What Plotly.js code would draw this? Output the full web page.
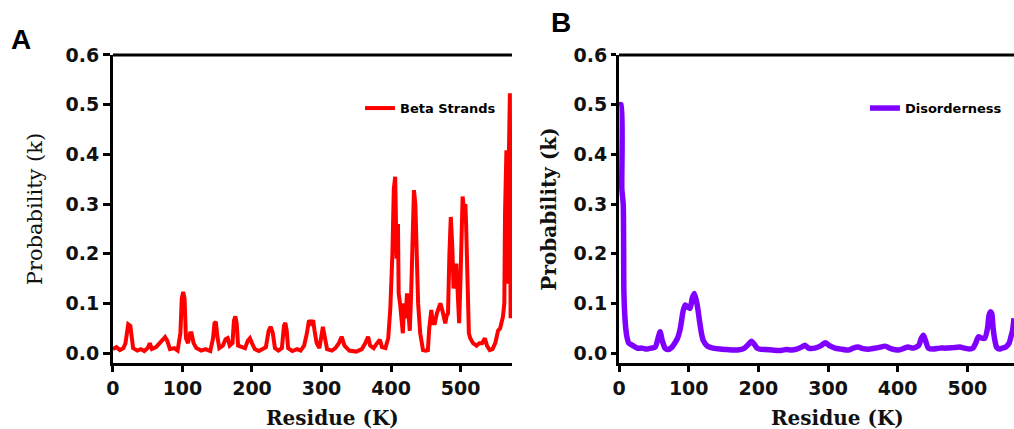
<!DOCTYPE html>
<html>
<head>
<meta charset="utf-8">
<script src="https://cdn.plot.ly/plotly-3.0.1.min.js"></script>
<style>html,body{margin:0;padding:0;background:#fff}#chart{width:1014px;height:429px}</style>
</head>
<body>
<div id="chart"></div>
<script>
// Panel A: Beta Strands (residue, probability)
const resA = [0,5,10,15,18,20,22,25,27,29,35,40,45,50,53,56,62,68,72,75,78,82,88,93,97,99,101,103,105,108,111,113,116,120,127,133,140,144,146,148,150,153,158,162,165,168,172,174,176,178,180,185,190,194,197,200,204,210,216,220,224,227,230,233,238,243,246,248,250,252,258,265,270,275,279,282,285,288,290,293,297,300,302,305,308,315,320,325,329,333,340,350,358,363,367,370,375,380,384,387,392,396,399,402,404,406,408,410,411,413,415,417,419,421,423,425,427,429,431,433,435,437,439,442,444,446,450,453,455,458,460,463,466,469,471,474,478,480,482,484,486,488,490,492,494,496,498,500,502,503,505,507,508,510,512,514,518,523,527,531,535,538,542,546,550,554,557,561,563,564,565,566,567,568,569,570,571,572,573,574];
const valA = [0.008,0.012,0.006,0.01,0.02,0.045,0.058,0.055,0.03,0.01,0.005,0.008,0.004,0.01,0.02,0.008,0.012,0.02,0.028,0.032,0.025,0.008,0.01,0.005,0.04,0.11,0.123,0.11,0.03,0.02,0.04,0.04,0.02,0.01,0.005,0.008,0.004,0.03,0.06,0.063,0.035,0.01,0.015,0.028,0.03,0.015,0.02,0.065,0.074,0.06,0.015,0.012,0.01,0.025,0.03,0.02,0.008,0.004,0.01,0.012,0.045,0.053,0.04,0.01,0.005,0.01,0.055,0.061,0.045,0.01,0.004,0.008,0.005,0.015,0.04,0.066,0.06,0.066,0.045,0.02,0.01,0.045,0.053,0.03,0.008,0.005,0.01,0.02,0.033,0.015,0.005,0.003,0.008,0.02,0.033,0.015,0.01,0.02,0.027,0.012,0.01,0.03,0.09,0.2,0.33,0.355,0.19,0.26,0.12,0.1,0.06,0.04,0.1,0.07,0.12,0.08,0.045,0.12,0.2,0.328,0.3,0.16,0.1,0.04,0.02,0.006,0.005,0.006,0.05,0.087,0.06,0.06,0.08,0.09,0.1,0.085,0.06,0.075,0.08,0.2,0.274,0.22,0.13,0.15,0.18,0.12,0.06,0.15,0.27,0.315,0.29,0.3,0.26,0.1,0.04,0.03,0.02,0.015,0.02,0.02,0.03,0.015,0.006,0.008,0.02,0.045,0.05,0.073,0.1,0.28,0.38,0.408,0.15,0.14,0.35,0.45,0.523,0.07,0.3,0.23];

// Panel B: Disorderness (residue, probability)
const resB = [0,3,4,6,7,9,11,14,20,26,33,40,46,52,56,59,62,66,70,76,80,84,88,92,95,99,102,105,108,111,113,116,119,121,126,130,135,145,155,165,174,180,186,190,194,198,202,210,220,230,240,248,255,262,267,272,281,290,296,302,310,318,329,336,343,350,360,368,375,382,390,401,408,415,422,430,434,437,440,444,451,460,470,480,489,496,503,508,512,516,521,525,529,531,533,535,537,539,542,546,550,555,560,563,565,567];
const valB = [0.5,0.5,0.33,0.3,0.12,0.06,0.035,0.02,0.015,0.01,0.01,0.008,0.01,0.012,0.03,0.043,0.025,0.01,0.007,0.012,0.02,0.03,0.05,0.085,0.097,0.092,0.09,0.11,0.12,0.105,0.09,0.06,0.035,0.025,0.015,0.012,0.01,0.008,0.007,0.006,0.007,0.01,0.018,0.024,0.018,0.01,0.008,0.007,0.006,0.005,0.007,0.006,0.008,0.012,0.016,0.01,0.01,0.015,0.021,0.015,0.01,0.008,0.006,0.01,0.012,0.009,0.008,0.01,0.012,0.014,0.009,0.006,0.009,0.012,0.01,0.015,0.03,0.036,0.025,0.01,0.008,0.01,0.01,0.011,0.012,0.01,0.008,0.01,0.02,0.033,0.03,0.03,0.05,0.075,0.083,0.08,0.05,0.03,0.012,0.008,0.01,0.012,0.02,0.035,0.046,0.07];

const xTicks = [0,100,200,300,400,500];
const yTicks = [0,0.1,0.2,0.3,0.4,0.5,0.6];
const nameA = 'Beta Strands';
const nameB = 'Disorderness';

const tickFont = {family: 'DejaVu Sans', size: 19, color: '#111', weight: 'bold'};

function xAxis(domain, range, anchor) {
  return {domain: domain, range: range, anchor: anchor, showline: true, linewidth: 3, linecolor: '#000',
    ticks: 'outside', ticklen: 6, tickwidth: 3, tickcolor: '#000', tickvals: xTicks,
    tickfont: tickFont, showgrid: false, zeroline: false, fixedrange: true};
}
function yAxis(anchor, titleFont, standoff, ticklen) {
  return {domain: [0.1538, 0.8718], range: [-0.02, 0.6], anchor: anchor, showline: true, linewidth: 3, linecolor: '#000',
    ticks: 'outside', ticklen: ticklen, tickwidth: 3, tickcolor: '#000', tickvals: yTicks, tickformat: '.1f',
    tickfont: tickFont, showgrid: false, zeroline: false, fixedrange: true,
    title: {text: 'Probability (k)', font: titleFont, standoff: standoff}};
}

const traces = [
  {x: resA, y: valA, type: 'scatter', mode: 'lines', name: nameA, xaxis: 'x', yaxis: 'y',
   line: {color: '#ff0000', width: 4}, legend: 'legend'},
  {x: resB, y: valB, type: 'scatter', mode: 'lines', name: nameB, xaxis: 'x2', yaxis: 'y2',
   line: {color: '#7f00ff', width: 5.5, shape: 'spline', smoothing: 0.6}, legend: 'legend2'}
];

const legendStyle = {font: {family: 'DejaVu Sans', size: 13, color: '#000', weight: 'bold'},
  bgcolor: 'rgba(0,0,0,0)', borderwidth: 0, xanchor: 'left', yanchor: 'middle', tracegroupgap: 0};

const layout = {
  width: 1014, height: 429,
  margin: {l: 0, r: 0, t: 0, b: 0},
  paper_bgcolor: '#fff', plot_bgcolor: '#fff',
  showlegend: true,
  xaxis: xAxis([0.1114, 0.5049], [0, 574], 'y'),
  yaxis: yAxis('x', {family: 'DejaVu Serif', size: 21, color: '#111'}, 18, 7),
  xaxis2: xAxis([0.6105, 1], [0, 567], 'y2'),
  yaxis2: yAxis('x2', {family: 'DejaVu Serif', size: 20, color: '#111', weight: 'bold'}, 12, 5),
  legend: Object.assign({x: 0.355, y: 0.748}, legendStyle),
  legend2: Object.assign({x: 0.853, y: 0.748}, legendStyle),
  shapes: [
    {type: 'line', xref: 'x domain', yref: 'y domain', x0: 0, x1: 1, y0: 1, y1: 1, line: {color: '#000', width: 3}},
    {type: 'line', xref: 'x2 domain', yref: 'y2 domain', x0: 0, x1: 1, y0: 1, y1: 1, line: {color: '#000', width: 3}}
  ],
  annotations: [
    {text: 'Residue (K)', xref: 'paper', yref: 'paper', x: 332/1014, y: (429-418)/429, xanchor: 'center', yanchor: 'middle',
     showarrow: false, font: {family: 'DejaVu Serif', size: 20, color: '#111', weight: 'bold'}},
    {text: 'Residue (K)', xref: 'paper', yref: 'paper', x: 837/1014, y: (429-418)/429, xanchor: 'center', yanchor: 'middle',
     showarrow: false, font: {family: 'DejaVu Serif', size: 20, color: '#111', weight: 'bold'}},
    {text: 'A', xref: 'paper', yref: 'paper', x: 21/1014, y: (429-40)/429, xanchor: 'center', yanchor: 'middle',
     showarrow: false, font: {family: 'Liberation Sans', size: 28, color: '#000', weight: 'bold'}},
    {text: 'B', xref: 'paper', yref: 'paper', x: 561/1014, y: (429-22)/429, xanchor: 'center', yanchor: 'middle',
     showarrow: false, font: {family: 'Liberation Sans', size: 28, color: '#000', weight: 'bold'}}
  ]
};

Plotly.newPlot('chart', traces, layout, {staticPlot: true, displayModeBar: false});
</script>
</body>
</html>
